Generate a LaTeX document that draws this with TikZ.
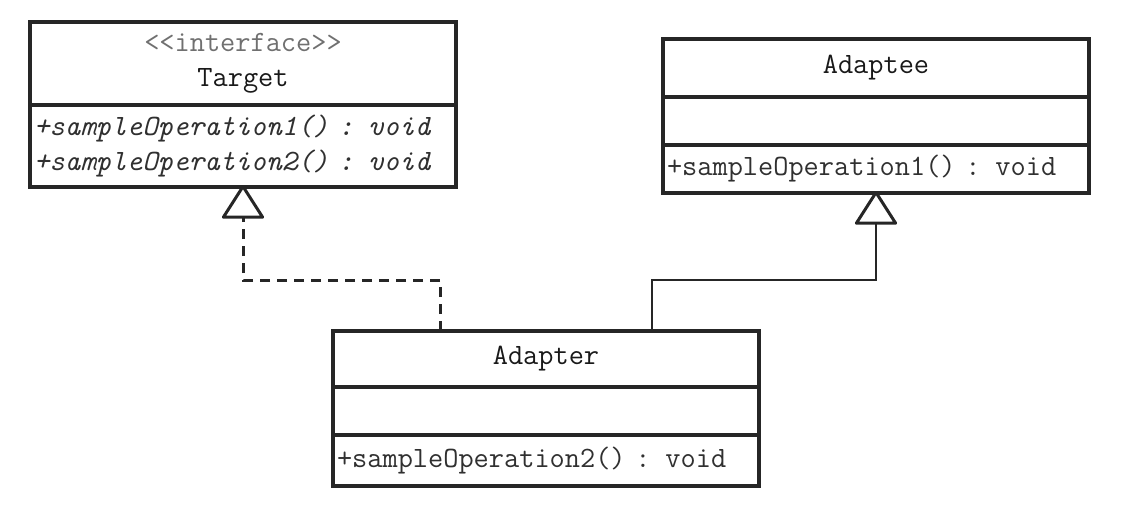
\documentclass[tikz,border=0pt]{standalone}
\usepackage{tikz}
\usetikzlibrary{arrows.meta}
\definecolor{stereogray}{HTML}{707070}
\definecolor{opgray}{HTML}{303030}

\begin{document}
\begin{tikzpicture}[x=1pt,y=-1pt,every node/.style={font=\fontsize{29.5}{35}\ttfamily,inner sep=0pt,outer sep=0pt},class part/.style={draw=black!85,line width=3.2pt,minimum width=426pt,anchor=north west}]
\tikzstyle{title part} = [class part, align=center, text=black!90]
\tikzstyle{op part} = [class part, align=left, text=opgray, text width=418pt, inner xsep=4pt]
\tikzstyle{realize} = [draw=black!85, line width=3pt, dash pattern=on 10pt off 7pt, -{Triangle[open,round,length=35pt,width=44pt,line width=3pt]}]
\tikzstyle{inherit} = [draw=black!85, line width=2.2pt, -{Triangle[open,round,length=35pt,width=44pt,line width=3pt]}]

\useasboundingbox (0,0) rectangle (1147,505);

\node (target) [title part, minimum height=83pt] at (30,22) {\textcolor{stereogray}{<<interface>>}\\Target};
\node (target ops) [op part, minimum height=82pt, font=\fontsize{29.5}{35}\ttfamily\itshape] at (target.south west) {+sampleOperation1() : void\\+sampleOperation2() : void};

\node (adaptee) [title part, minimum height=58pt] at (663,39) {Adaptee};
\node (adaptee attr) [class part, minimum height=48pt] at (adaptee.south west) {};
\node (adaptee ops) [op part, minimum height=48pt] at (adaptee attr.south west) {+sampleOperation1() : void};

\node (adapter) [title part, minimum height=56pt] at (333,331) {Adapter};
\node (adapter attr) [class part, minimum height=48pt] at (adapter.south west) {};
\node (adapter ops) [op part, minimum height=51pt] at (adapter attr.south west) {+sampleOperation2() : void};

\draw[realize] ([xshift=-106pt]adapter.north) -- ++(0,-51) -| ([yshift=2pt]target ops.south);
\draw[inherit] ([xshift=106pt]adapter.north) -- ++(0,-51) -| ([yshift=2pt]adaptee ops.south);

\end{tikzpicture}
\end{document}
